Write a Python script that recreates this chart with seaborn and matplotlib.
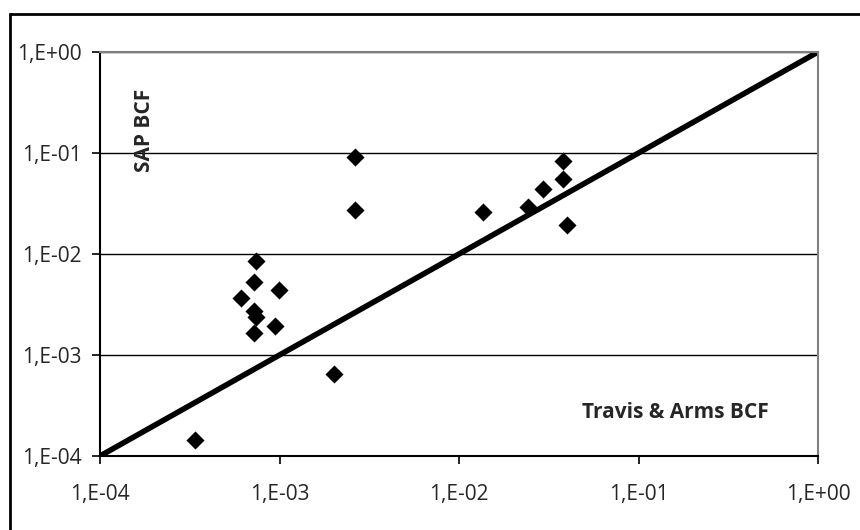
import matplotlib
matplotlib.use("Agg")
import matplotlib.pyplot as plt
from matplotlib.patches import Rectangle
from matplotlib.ticker import FixedLocator, FixedFormatter, NullLocator
import seaborn as sns
import pandas as pd

# Bioconcentration factors: Travis & Arms estimate vs. SAP estimate
travis_arms_bcf = [7.4e-4, 7.2e-4, 9.9e-4, 6.1e-4, 7.2e-4, 7.4e-4, 9.4e-4, 7.2e-4,
                   2.0e-3, 2.64e-3, 2.64e-3, 1.36e-2, 2.41e-2, 2.95e-2, 3.81e-2,
                   3.81e-2, 4.0e-2, 3.4e-4]
sap_bcf = [8.5e-3, 5.3e-3, 4.4e-3, 3.7e-3, 2.75e-3, 2.36e-3, 1.94e-3, 1.65e-3,
           6.5e-4, 9.1e-2, 2.7e-2, 2.6e-2, 2.9e-2, 4.4e-2, 8.4e-2,
           5.5e-2, 1.94e-2, 1.44e-4]

# 1:1 reference line
line_x = [1e-4, 1e0]
line_y = [1e-4, 1e0]

tick_values = [1e-4, 1e-3, 1e-2, 1e-1, 1e0]
tick_labels = ["1,E-04", "1,E-03", "1,E-02", "1,E-01", "1,E+00"]

df = pd.DataFrame({"Travis & Arms BCF": travis_arms_bcf, "SAP BCF": sap_bcf})

sns.set_style("white")
plt.rcParams["font.family"] = ["Open Sans", "DejaVu Sans"]

fig = plt.figure(figsize=(8.6, 5.3), dpi=100)
W, H = 860, 530
ax = fig.add_axes([100 / W, (H - 456) / H, (818 - 100) / W, (456 - 52) / H])

# outer chart frame
fig.patches.append(Rectangle((10 / W, -0.05), 1.05, (H - 14) / H + 0.05,
                             transform=fig.transFigure, fill=False,
                             edgecolor="black", linewidth=2.0, zorder=0))

ax.set_xscale("log")
ax.set_yscale("log")
ax.set_xlim(1e-4, 1e0)
ax.set_ylim(1e-4, 1e0)

for v in tick_values:
    ax.axhline(v, color="black", linewidth=1.0, zorder=1)

ax.plot(line_x, line_y, color="black", linewidth=4.0,
        solid_capstyle="round", zorder=2)

sns.scatterplot(data=df, x="Travis & Arms BCF", y="SAP BCF", ax=ax,
                marker="D", s=85, color="black", edgecolor="black",
                linewidth=0, zorder=3, legend=False)

ax.xaxis.set_major_locator(FixedLocator(tick_values))
ax.xaxis.set_major_formatter(FixedFormatter(tick_labels))
ax.yaxis.set_major_locator(FixedLocator(tick_values))
ax.yaxis.set_major_formatter(FixedFormatter(tick_labels))
ax.xaxis.set_minor_locator(NullLocator())
ax.yaxis.set_minor_locator(NullLocator())

ax.tick_params(axis="both", which="major", direction="out", length=6,
               width=1.2, color="black", labelsize=15, pad=14,
               bottom=True, left=True)
ax.tick_params(axis="y", pad=7)

ax.set_xlabel("")
ax.set_ylabel("")

for side in ("left", "bottom"):
    ax.spines[side].set_color("black")
    ax.spines[side].set_linewidth(1.5)
for side in ("top", "right"):
    ax.spines[side].set_color("#808080")
    ax.spines[side].set_linewidth(1.5)

ax.text(145 / W, (H - 130) / H, "SAP BCF", transform=fig.transFigure,
        rotation=90, ha="center", va="center", fontsize=15,
        fontweight="bold")
ax.text(675 / W, (H - 412) / H, "Travis & Arms BCF", transform=fig.transFigure,
        ha="center", va="center", fontsize=15, fontweight="bold")

fig.savefig("out.png", dpi=100)
